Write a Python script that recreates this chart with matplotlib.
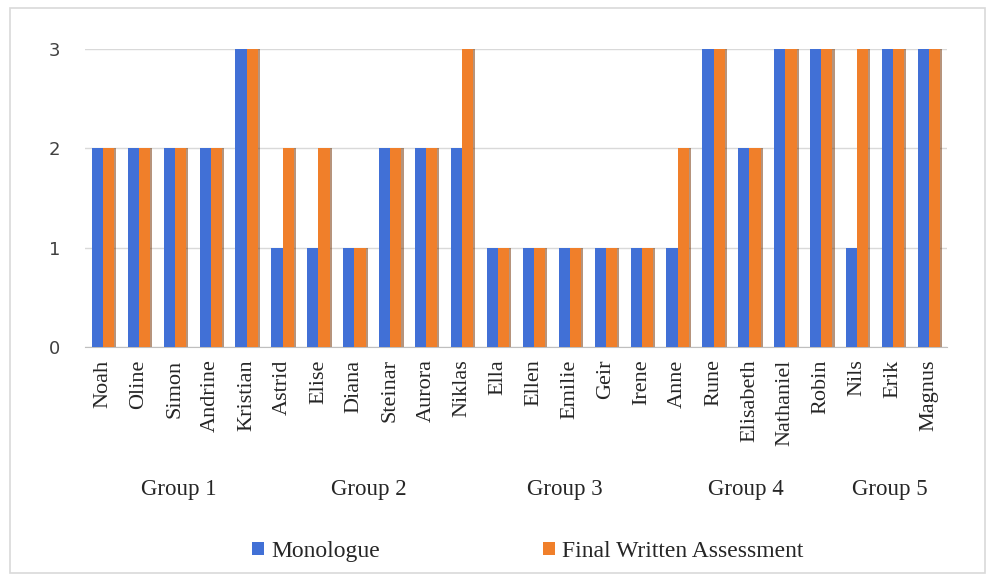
import numpy as np
import matplotlib.pyplot as plt
from matplotlib.patches import Rectangle

# data
names = ["Noah", "Oline", "Simon", "Andrine", "Kristian",
         "Astrid", "Elise", "Diana", "Steinar", "Aurora", "Niklas",
         "Ella", "Ellen", "Emilie", "Geir", "Irene", "Anne",
         "Rune", "Elisabeth", "Nathaniel", "Robin",
         "Nils", "Erik", "Magnus"]
monologue = [2, 2, 2, 2, 3,
             1, 1, 1, 2, 2, 2,
             1, 1, 1, 1, 1, 1,
             3, 2, 3, 3,
             1, 3, 3]
final_written = [2, 2, 2, 2, 3,
                 2, 2, 1, 2, 2, 3,
                 1, 1, 1, 1, 1, 2,
                 3, 2, 3, 3,
                 3, 3, 3]
groups = ["Group 1", "Group 2", "Group 3", "Group 4", "Group 5"]
# label centres, in category units, as they sit in the picture
group_pos = [2.1, 7.4, 12.85, 17.9, 21.9]

blue = "#4170d6"
orange = "#f07f2a"
serif = ["Liberation Serif", "DejaVu Serif"]

fig = plt.figure(figsize=(9.9, 5.78), dpi=100)
fig.patches.append(Rectangle((10 / 990, 5 / 578), 975 / 990, 565 / 578,
                             transform=fig.transFigure, fill=False,
                             edgecolor="#d9d9d9", linewidth=1.2))
ax = fig.add_axes([85 / 990, 231 / 578, 862 / 990, 298 / 578])

x = np.arange(len(names))
w = 0.31
# soft shadow behind the bars, like the excel bevel
ax.bar(x + w / 2 + 0.06, final_written, w, color="#7a3d10", alpha=0.55, zorder=2)
ax.bar(x - w / 2, monologue, w, color=blue, label="Monologue", zorder=3)
ax.bar(x + w / 2, final_written, w, color=orange, label="Final Written Assessment", zorder=3)

ax.set_xlim(-0.5, len(names) - 0.5)
ax.set_ylim(0, 3)
ax.set_yticks([0, 1, 2, 3])
ax.yaxis.grid(True, color="#d9d9d9", linewidth=1.0)
ax.set_axisbelow(True)
for s in ["top", "right", "left"]:
    ax.spines[s].set_visible(False)
ax.spines["bottom"].set_color("#bfbfbf")
ax.tick_params(axis="both", length=0)
ax.tick_params(axis="y", labelsize=13, labelcolor="#404040", pad=18)

ax.set_xticks(x)
ax.set_xticklabels(names, rotation=90, fontsize=16, family=serif, color="#262626")
ax.tick_params(axis="x", pad=9)

for g, p in zip(groups, group_pos):
    ax.text(p, -1.43, g, ha="center", va="center", fontsize=16.5,
            family=serif, color="#262626", transform=ax.transData, clip_on=False)

handles, labels = ax.get_legend_handles_labels()
fig.legend(handles, labels, loc="center", bbox_to_anchor=(0.533, 0.046), ncol=2,
           frameon=False, prop={"family": serif, "size": 17},
           handlelength=0.5, handleheight=0.5, handletextpad=0.3,
           columnspacing=6.9, labelcolor="#262626")

fig.savefig("out.png", dpi=100)
